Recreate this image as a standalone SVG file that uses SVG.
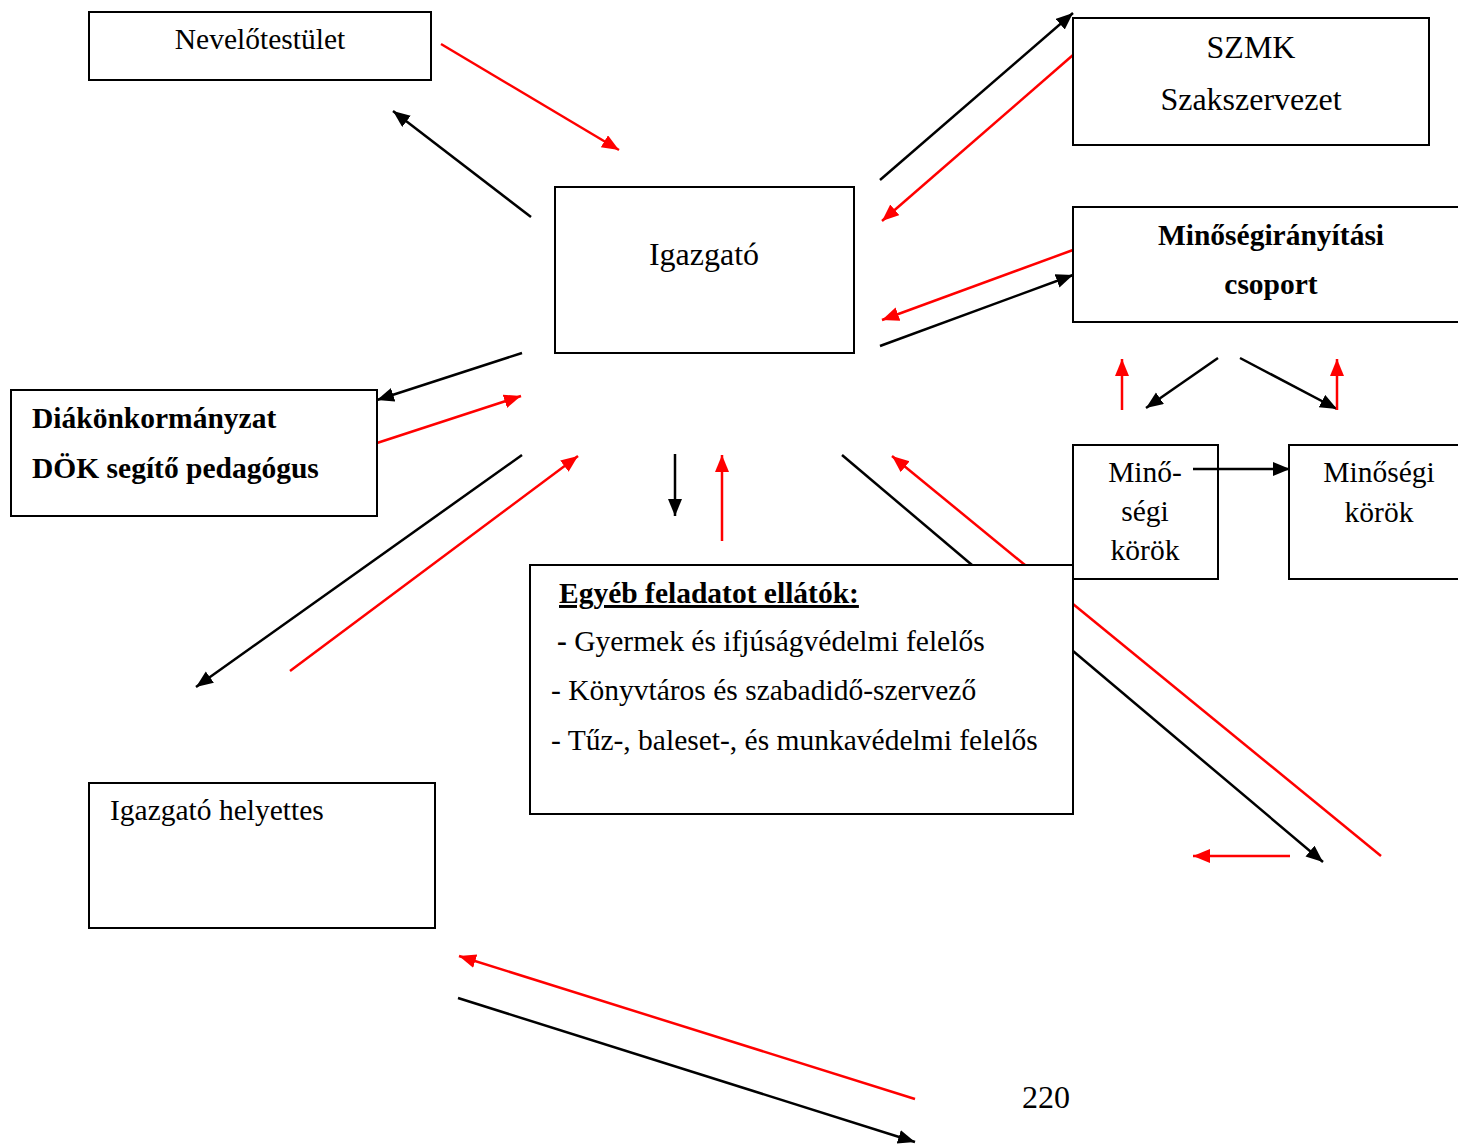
<svg xmlns="http://www.w3.org/2000/svg" width="1458" height="1146" viewBox="0 0 1458 1146">
  <defs>
    <style>
      .box { fill: #fff; stroke: #000; stroke-width: 2; }
      .t { font-family: "Liberation Serif", "Times New Roman", serif; font-size: 29.5px; fill: #000; }
      .lg { font-size: 32px; }
      .c { text-anchor: middle; }
      .b { font-weight: bold; }
      .blk { stroke: #000; stroke-width: 2.5; fill: none; }
      .red { stroke: #ff0000; stroke-width: 2.5; fill: none; }
      .blk.a { marker-end: url(#ah-black); }
      .red.a { marker-end: url(#ah-red); }
    </style>
    <marker id="ah-black" markerUnits="userSpaceOnUse" markerWidth="18" markerHeight="16" refX="17" refY="7" orient="auto">
      <path d="M0,0 L17,7 L0,14 z" fill="#000"/>
    </marker>
    <marker id="ah-red" markerUnits="userSpaceOnUse" markerWidth="18" markerHeight="16" refX="17" refY="7" orient="auto">
      <path d="M0,0 L17,7 L0,14 z" fill="#ff0000"/>
    </marker>
  </defs>

  <rect width="1458" height="1146" fill="#fff"/>

  <!-- connectors -->
  <g id="connectors">
    <line class="red a" x1="441" y1="44" x2="619" y2="150"/>
    <line class="blk a" x1="531" y1="217" x2="393" y2="111"/>
    <line class="blk a" x1="880" y1="180" x2="1073" y2="13"/>
    <line class="red a" x1="1073" y1="55" x2="882" y2="221"/>
    <line class="red a" x1="1073" y1="250" x2="882" y2="320"/>
    <line class="blk a" x1="880" y1="346" x2="1073" y2="275"/>
    <line class="blk a" x1="522" y1="353" x2="377" y2="400"/>
    <line class="red a" x1="377" y1="443" x2="521" y2="396"/>
    <line class="blk a" x1="522" y1="455" x2="196" y2="687"/>
    <line class="red a" x1="290" y1="671" x2="578" y2="456"/>
    <line class="blk a" x1="675" y1="454" x2="675" y2="516"/>
    <line class="red a" x1="722" y1="541" x2="722" y2="455"/>
    <line class="blk" x1="842" y1="455" x2="972" y2="565"/>
    <line class="red a" x1="1025" y1="565" x2="892" y2="456"/>
    <line class="red a" x1="1122" y1="410" x2="1122" y2="359"/>
    <line class="blk a" x1="1218" y1="358" x2="1146" y2="408"/>
    <line class="blk a" x1="1240" y1="358" x2="1337" y2="409"/>
    <line class="red a" x1="1337" y1="410" x2="1337" y2="359"/>
    <line class="red" x1="1073" y1="604" x2="1381" y2="856"/>
    <line class="blk a" x1="1073" y1="651" x2="1323" y2="862"/>
    <line class="red a" x1="1290" y1="856" x2="1193" y2="856"/>
    <line class="red a" x1="915" y1="1099" x2="459" y2="956"/>
    <line class="blk a" x1="458" y1="998" x2="915" y2="1142"/>
  </g>

  <g id="nevelotestulet">
    <rect class="box" x="89" y="12" width="342" height="68"/>
    <text class="t c" x="260" y="49">Nevelőtestület</text>
  </g>

  <g id="szmk">
    <rect class="box" x="1073" y="18" width="356" height="127"/>
    <text class="t lg c" x="1251" y="58">SZMK</text>
    <text class="t lg c" x="1251" y="110">Szakszervezet</text>
  </g>

  <g id="minosegiranyitasi">
    <rect class="box" x="1073" y="207" width="395" height="115"/>
    <text class="t c b" x="1271" y="245">Minőségirányítási</text>
    <text class="t c b" x="1271" y="294">csoport</text>
  </g>

  <g id="igazgato">
    <rect class="box" x="555" y="187" width="299" height="166"/>
    <text class="t lg c" x="704" y="265">Igazgató</text>
  </g>

  <g id="dok">
    <rect class="box" x="11" y="390" width="366" height="126"/>
    <text class="t b" x="32" y="428">Diákönkormányzat</text>
    <text class="t b" x="32" y="478">DÖK segítő pedagógus</text>
  </g>

  <g id="minosegi-korok-1">
    <rect class="box" x="1073" y="445" width="145" height="134"/>
    <text class="t c" x="1145" y="482">Minő-</text>
    <text class="t c" x="1145" y="521">ségi</text>
    <text class="t c" x="1145" y="560">körök</text>
  </g>

  <g id="minosegi-korok-2">
    <rect class="box" x="1289" y="445" width="179" height="134"/>
    <text class="t c" x="1379" y="482">Minőségi</text>
    <text class="t c" x="1379" y="522">körök</text>
  </g>

  <!-- horizontal link between the two quality circle boxes, drawn above the boxes -->
  <g id="korok-link">
    <line class="blk a" x1="1193" y1="469" x2="1290" y2="469"/>
  </g>

  <g id="egyeb">
    <rect class="box" x="530" y="565" width="543" height="249"/>
    <text class="t b" x="559" y="603" text-decoration="underline">Egyéb feladatot ellátók:</text>
    <text class="t" x="557" y="651"><tspan font-weight="bold">-</tspan> Gyermek és ifjúságvédelmi felelős</text>
    <text class="t" x="551" y="700">- Könyvtáros és szabadidő-szervező</text>
    <text class="t" x="551" y="750">- Tűz-, baleset-, és munkavédelmi felelős</text>
  </g>

  <g id="igazgato-helyettes">
    <rect class="box" x="89" y="783" width="346" height="145"/>
    <text class="t" x="110" y="820">Igazgató helyettes</text>
  </g>

  <text class="t lg" x="1022" y="1108">220</text>
</svg>
